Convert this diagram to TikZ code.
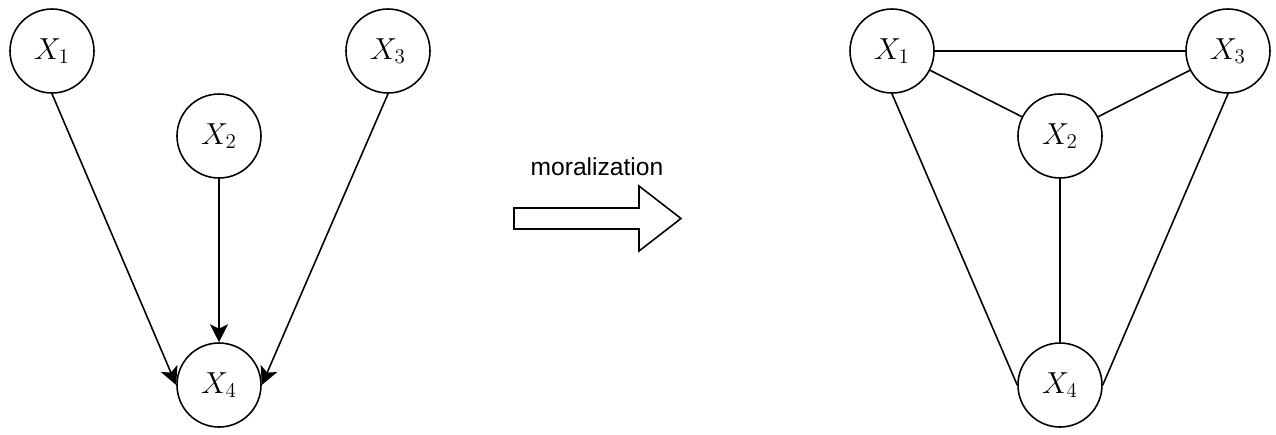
\documentclass[tikz,border=0pt]{standalone}
\usepackage{fontspec}
\newfontfamily\labelfont{Liberation Sans}
\usetikzlibrary{arrows.meta}
\tikzset{
	var/.style={draw, circle, line width=0.9pt, minimum size=84*0.02cm, inner sep=0pt, font=\fontsize{17}{20}\selectfont},
	edge/.style={line width=0.9pt},
	dedge/.style={line width=0.9pt, -{Stealth[length=0.36cm, width=0.36cm, inset=0.09cm]}}
}

\begin{document}
\begin{tikzpicture}[x=0.02cm, y=-0.02cm]
		%%%%% START %%%%%
		\useasboundingbox (0, 0) rectangle (1276, 434);
		
		% directed graph
		\node[var] (x1) at (52, 51) {$X_1$};
		\node[var] (x2) at (219, 136) {$X_2$};
		\node[var] (x3) at (388, 51) {$X_3$};
		\node[var] (x4) at (219, 385) {$X_4$};
		
		\draw[dedge] (x1.south) -- (x4.west);
		\draw[dedge] (x2.south) -- (x4.north);
		\draw[dedge] (x3.south) -- (x4.east);
		
		% big arrow
		\node[font=\labelfont\fontsize{14}{16}\selectfont] (lbl) at (597, 167) {moralization};
		\draw[line width=0.9pt, line join=miter] (514, 208) -- (639, 208) -- (639, 186) -- (681, 218.5)
			-- (639, 251) -- (639, 229) -- (514, 229) -- cycle;
		
		% moral graph
		\node[var] (m1) at (892, 51) {$X_1$};
		\node[var] (m2) at (1060, 136) {$X_2$};
		\node[var] (m3) at (1228, 51) {$X_3$};
		\node[var] (m4) at (1060, 385) {$X_4$};
		
		\draw[edge] (m1.east) -- (m3.west);
		\draw[edge] (m1) -- (m2);
		\draw[edge] (m3) -- (m2);
		\draw[edge] (m1.south) -- (m4.west);
		\draw[edge] (m2.south) -- (m4.north);
		\draw[edge] (m3.south) -- (m4.east);
		%%%%% END %%%%%
	\end{tikzpicture}
\end{document}
